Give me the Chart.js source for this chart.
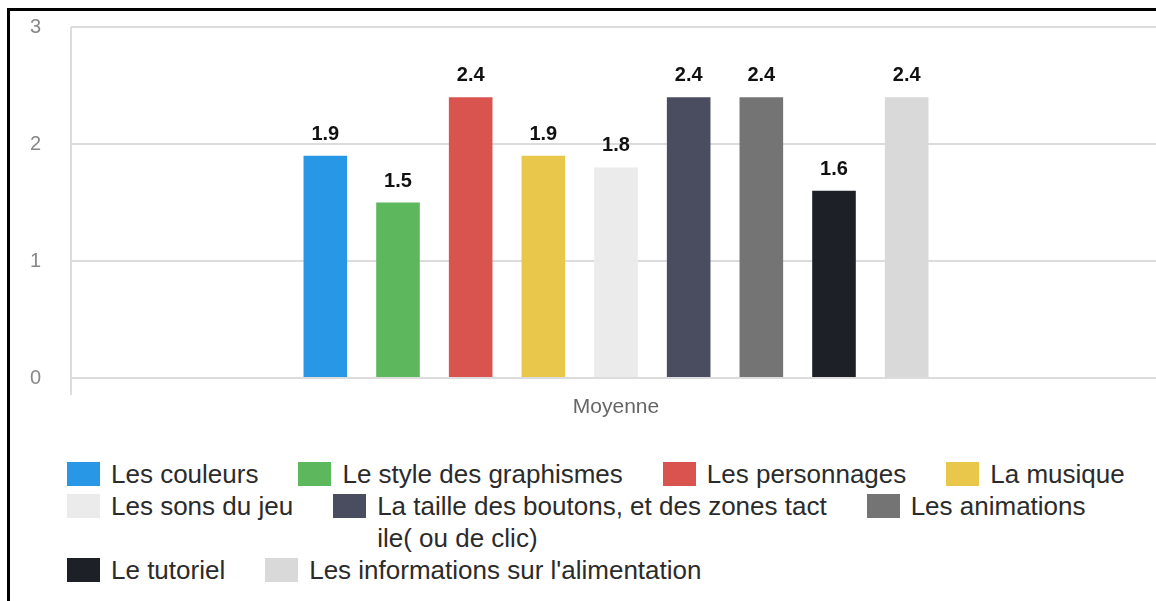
<!DOCTYPE html>
<html>
<head>
<meta charset="utf-8">
<script src="https://cdn.jsdelivr.net/npm/chart.js@4.4.1/dist/chart.umd.min.js"></script>
<style>
  html, body { margin: 0; padding: 0; background: #fff; overflow: hidden; width: 1156px; height: 601px; }
  .frame { position: absolute; left: 7px; top: 8px; width: 1200px; height: 700px; border-top: 3px solid #000; border-left: 3px solid #000; }
  .chart-box { position: absolute; left: 0; top: 0; width: 1170px; height: 440px; }
  #legend {
    position: absolute; left: 67px; top: 458px; width: 1080px;
    display: flex; flex-wrap: wrap; column-gap: 40px;
    font: 26px "Liberation Sans", Arial, sans-serif; color: #2b2b2b; line-height: 32px;
  }
  .item { display: flex; align-items: flex-start; }
  .swatch { width: 33px; height: 24px; margin-top: 4px; margin-right: 11px; flex: none; }
  .text { white-space: pre; }
</style>
</head>
<body>
<div class="frame"></div>
<div class="chart-box"><canvas id="barChart"></canvas></div>
<div id="legend"></div>

<script>
const categories = ['Moyenne'];

const seriesLabels = [
  'Les couleurs',
  'Le style des graphismes',
  'Les personnages',
  'La musique',
  'Les sons du jeu',
  'La taille des boutons, et des zones tact\nile( ou de clic)',
  'Les animations',
  'Le tutoriel',
  "Les informations sur l'alimentation",
];

const seriesValues = [1.9, 1.5, 2.4, 1.9, 1.8, 2.4, 2.4, 1.6, 2.4];

const seriesColors = [
  '#2897e5', '#5db75c', '#d9534f', '#e8c74a', '#ebebeb',
  '#4a4c60', '#747474', '#1e2027', '#d9d9d9',
];

const yTicks = [0, 1, 2, 3];

const fontFamily = '"Liberation Sans", Arial, sans-serif';

// value printed above each bar
const valueLabels = {
  id: 'valueLabels',
  afterDatasetsDraw(chart) {
    const ctx = chart.ctx;
    ctx.save();
    ctx.font = 'bold 20px ' + fontFamily;
    ctx.fillStyle = '#111';
    ctx.textAlign = 'center';
    ctx.textBaseline = 'alphabetic';
    chart.data.datasets.forEach((ds, i) => {
      chart.getDatasetMeta(i).data.forEach((bar, j) => {
        ctx.fillText(ds.data[j].toFixed(1), bar.x, bar.y - 16);
      });
    });
    ctx.restore();
  }
};

function createBarChart() {
  const ctx = document.getElementById('barChart').getContext('2d');
  new Chart(ctx, {
    type: 'bar',
    data: {
      labels: categories,
      datasets: seriesLabels.map((label, i) => ({
        label,
        data: [seriesValues[i]],
        backgroundColor: seriesColors[i],
        borderWidth: 0,
        categoryPercentage: 0.6,
        barPercentage: 0.6,
      }))
    },
    options: {
      responsive: true,
      maintainAspectRatio: false,
      animation: false,
      layout: { padding: { top: 27, right: 9, bottom: 22, left: 0 } },
      plugins: { legend: { display: false }, tooltip: { enabled: false } },
      scales: {
        x: {
          grid: { color: '#dcdcdc', lineWidth: 2, tickLength: 17 },
          border: { display: false },
          ticks: { color: '#666', font: { size: 21, family: fontFamily }, padding: 0 },
          afterFit(scale) { scale.height = 40; }
        },
        y: {
          min: yTicks[0],
          max: yTicks[yTicks.length - 1],
          grid: { color: '#dcdcdc', lineWidth: 2, drawTicks: false },
          border: { display: false },
          ticks: { stepSize: 1, color: '#888', font: { size: 20, family: fontFamily }, padding: 30 },
          afterFit(scale) {
            scale.width = 71;
            // tick padding is only meant to push labels left, not shrink the plot
            scale.paddingTop = 12;
            scale.paddingBottom = 12;
          }
        }
      }
    },
    plugins: [valueLabels]
  });
}

function renderLegend() {
  const container = document.getElementById('legend');
  container.innerHTML = seriesLabels.map((label, i) => `
    <div class="item">
      <span class="swatch" style="background:${seriesColors[i]}"></span>
      <span class="text">${label}</span>
    </div>
  `).join('');
}

window.addEventListener('DOMContentLoaded', () => {
  renderLegend();
  createBarChart();
});
</script>
</body>
</html>
